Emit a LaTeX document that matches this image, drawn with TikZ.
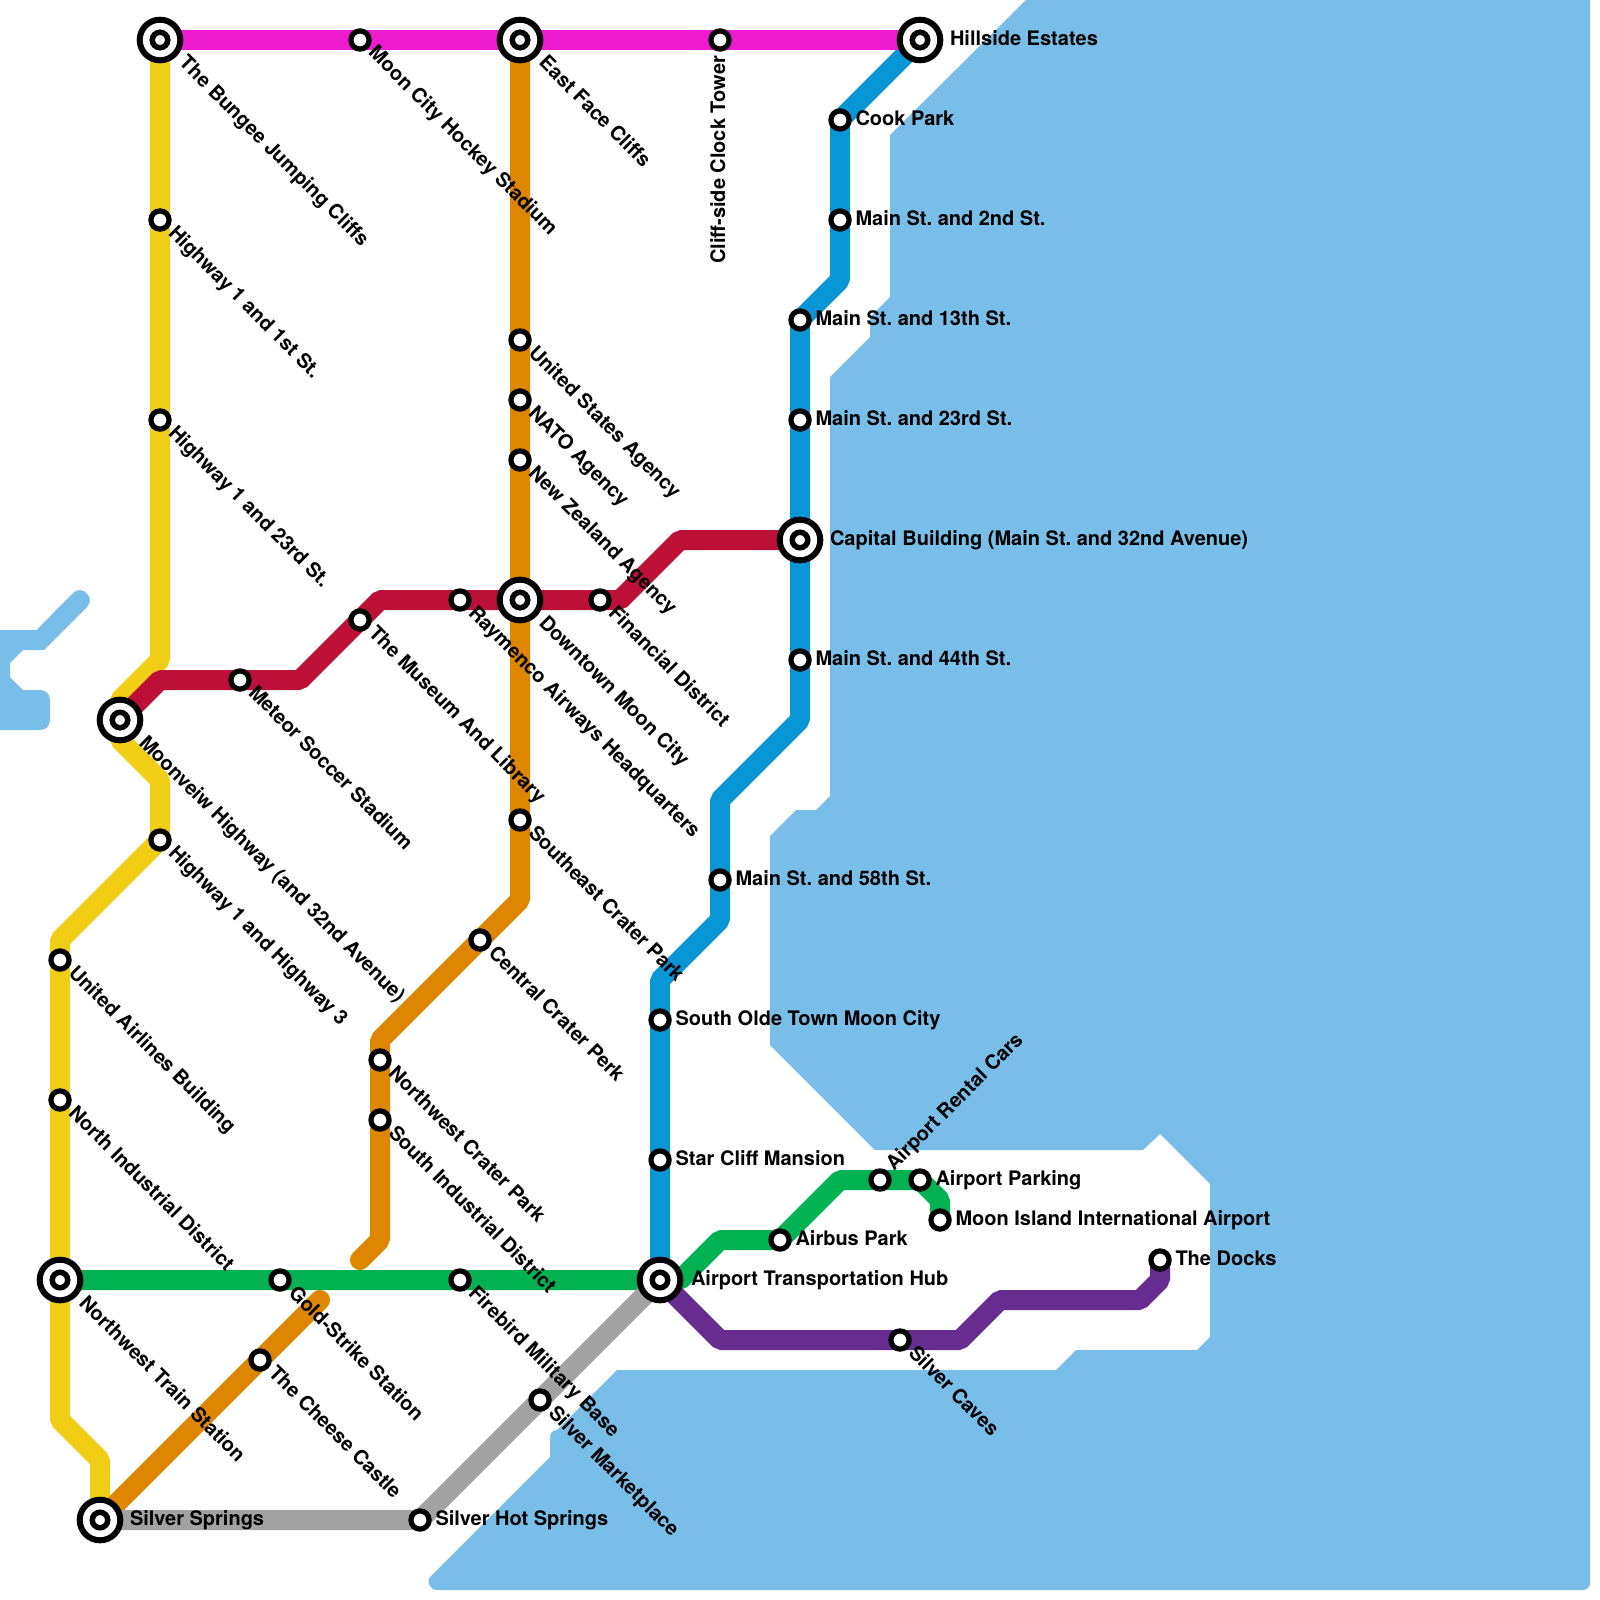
\documentclass[tikz,border=0pt]{standalone}
\usepackage{fontspec}
\setmainfont{TeX Gyre Heros}
\usetikzlibrary{calc,backgrounds}
\definecolor{water}{HTML}{79BDE9}
\definecolor{lyellow}{HTML}{F0CE15}
\definecolor{lblue}{HTML}{0896D7}
\definecolor{lmag}{HTML}{ED1AD0}
\definecolor{lred}{HTML}{BD1038}
\definecolor{lorange}{HTML}{DF8600}
\definecolor{lgreen}{HTML}{00B251}
\definecolor{lpurple}{HTML}{662C90}
\definecolor{lgray}{HTML}{A2A2A2}
\tikzset{
  stn/.style={circle,draw=black,fill=white,line width=5.2pt,minimum size=18.2pt,inner sep=0pt,outer sep=0pt},
  hubo/.style={circle,draw=black,fill=white,line width=6pt,minimum size=40.6pt,inner sep=0pt,outer sep=0pt},
  hubi/.style={circle,draw=black,fill=white,line width=5.5pt,minimum size=15.5pt,inner sep=0pt,outer sep=0pt},
  lab/.style={inner sep=0pt,outer sep=0pt,font=\fontsize{20}{22}\selectfont\bfseries\frenchspacing,text=black},
  metro/.style={line width=20pt,line join=bevel,line cap=round},
}
% name x y text
\newcommand{\rE}[4]{\node[stn] (#1) at (#2,#3) {}; \node[lab,anchor=base west] (#1L) at ($(#1.center)+(15.5,5)$) {#4};}
\newcommand{\rS}[4]{\node[stn] (#1) at (#2,#3) {}; \node[lab,anchor=base west,rotate=-45] (#1L) at ($(#1.center)+(7.5,14)$) {#4};}
\newcommand{\hub}[3]{\node[hubo] (#1) at (#2,#3) {}; \node[hubi] (#1i) at (#2,#3) {};}
\newcommand{\hE}[4]{\hub{#1}{#2}{#3}\node[lab,anchor=base west] (#1L) at ($(#1.center)+(30,5)$) {#4};}
\newcommand{\hS}[4]{\hub{#1}{#2}{#3}\node[lab,anchor=base west,rotate=-45] (#1L) at ($(#1.center)+(18,24)$) {#4};}
\begin{document}
\begin{tikzpicture}[x=1pt,y=-1pt]
\useasboundingbox (0,0) rectangle (1600,1600);
% stations and labels
\hS{bungee}{160}{40}{The Bungee Jumping Cliffs}
\rS{hockey}{360}{40}{Moon City Hockey Stadium}
\hS{eastface}{520}{40}{East Face Cliffs}
\node[stn] (clock) at (720,40) {};
\node[lab,anchor=base east,rotate=90] (clockL) at ($(clock.center)+(5,16)$) {Cliff-side Clock Tower};
\hub{hillside}{920}{40}
\node[lab,anchor=base west] (hillsideL) at ($(hillside.center)+(30,6)$) {Hillside Estates};
\rE{cook}{840}{120}{Cook Park}
\rE{m2}{840}{220}{Main St. and 2nd St.}
\rE{m13}{800}{320}{Main St. and 13th St.}
\rE{m23}{800}{420}{Main St. and 23rd St.}
\hE{capital}{800}{540}{Capital Building (Main St. and 32nd Avenue)}
\rE{m44}{800}{660}{Main St. and 44th St.}
\rE{m58}{720}{880}{Main St. and 58th St.}
\rE{olde}{660}{1020}{South Olde Town Moon City}
\rE{star}{660}{1160}{Star Cliff Mansion}
\hub{hubair}{660}{1280}
\node[lab,anchor=base west] (hubairL) at ($(hubair.center)+(31,5)$) {Airport Transportation Hub};
\rS{h1}{160}{220}{Highway 1 and 1st St.}
\rS{h23}{160}{420}{Highway 1 and 23rd St.}
\hS{moonv}{120}{720}{Moonveiw Highway (and 32nd Avenue)}
\rS{h3}{160}{840}{Highway 1 and Highway 3}
\rS{united}{60}{960}{United Airlines Building}
\rS{north}{60}{1100}{North Industrial District}
\hS{nwtrain}{60}{1280}{Northwest Train Station}
\hE{springs}{100}{1520}{Silver Springs}
\rS{meteor}{240}{680}{Meteor Soccer Stadium}
\rS{museum}{360}{620}{The Museum And Library}
\rS{raymenco}{460}{600}{Raymenco Airways Headquarters}
\hS{downtown}{520}{600}{Downtown Moon City}
\rS{financial}{600}{600}{Financial District}
\rS{usa}{520}{340}{United States Agency}
\rS{nato}{520}{400}{NATO Agency}
\rS{nz}{520}{460}{New Zealand Agency}
\rS{secrater}{520}{820}{Southeast Crater Park}
\rS{ccrater}{480}{940}{Central Crater Perk}
\rS{nwcrater}{380}{1060}{Northwest Crater Park}
\rS{south}{380}{1120}{South Industrial District}
\rS{cheese}{260}{1360}{The Cheese Castle}
\rS{gold}{280}{1280}{Gold-Strike Station}
\rS{firebird}{460}{1280}{Firebird Military Base}
\rE{airbus}{780}{1240}{Airbus Park}
\node[stn] (rental) at (880,1180) {};
\node[lab,anchor=base west,rotate=45] (rentalL) at ($(rental.center)+(14,-8.5)$) {Airport Rental Cars};
\rE{parking}{920}{1180}{Airport Parking}
\rE{island}{940}{1220}{Moon Island International Airport}
\rS{caves}{900}{1340}{Silver Caves}
\rE{docks}{1160}{1260}{The Docks}
\rS{market}{540}{1400}{Silver Marketplace}
\rE{hot}{420}{1520}{Silver Hot Springs}
% bends
\foreach \n/\x/\y in {
 bb1/840/280, bb2/800/720, bb3/720/800, bb4/720/920, bb5/660/980,
 yb1/160/660, yb2/120/700, yb3/120/740, yb4/160/780, yb5/60/940, yb6/60/1420, yb7/100/1460,
 rb1/160/680, rb2/300/680, rb3/380/600, rb4/620/600, rb5/680/540,
 ob1/520/900, ob2/380/1040, ob3/380/1240, ob4/360/1260, ob5/320/1300,
 gb1/680/1280, gb2/720/1240, gb3/840/1180, gb4/920/1180, gb5/940/1200,
 pb1/720/1340, pb2/960/1340, pb3/1000/1300, pb4/1140/1300, pb5/1160/1280}
 {\coordinate (\n) at (\x,\y);}
\begin{scope}[on background layer]
% water
\fill[water] (1026,0) -- (890,135) -- (890,297) -- (870,317) -- (870,337) -- (830,377) -- (830,796)
  -- (816,810) -- (796,810) -- (770,836) -- (770,1045) -- (875,1150) -- (1143,1150) -- (1160,1134)
  -- (1210,1184) -- (1210,1337) -- (1197,1350) -- (1076,1350) -- (1056,1370) -- (617,1370) -- (557,1430)
  .. controls (553,1430) and (550,1433) .. (550,1437) -- (550,1457) -- (430,1577)
  .. controls (426,1581) and (430,1590) .. (437,1590) -- (1583,1590)
  .. controls (1587,1590) and (1590,1587) .. (1590,1583) -- (1590,0) -- cycle;
\fill[water] (0,630) -- (36.5,630) -- (73,593) .. controls (82,584) and (96,598) .. (87,607)
  -- (44,650) -- (23,650) -- (10,663) -- (10,677) -- (23,690) -- (40,690)
  .. controls (46,690) and (50,694) .. (50,700) -- (50,720) .. controls (50,726) and (46,730) .. (40,730) -- (0,730) -- cycle;
% lines
\draw[metro,lyellow] (bungee.center) -- (h1.center) -- (h23.center) -- (yb1) -- (yb2) -- (moonv.center) -- (yb3) -- (yb4) -- (h3.center) -- (yb5) -- (united.center) -- (north.center) -- (nwtrain.center) -- (yb6) -- (yb7) -- (springs.center);
\draw[metro,lblue] (hillside.center) -- (cook.center) -- (m2.center) -- (bb1) -- (m13.center) -- (m23.center) -- (capital.center) -- (m44.center) -- (bb2) -- (bb3) -- (m58.center) -- (bb4) -- (bb5) -- (olde.center) -- (star.center) -- (hubair.center);
\draw[metro,lmag] (bungee.center) -- (hockey.center) -- (eastface.center) -- (clock.center) -- (hillside.center);
\draw[metro,lorange] (eastface.center) -- (usa.center) -- (nato.center) -- (nz.center) -- (downtown.center) -- (secrater.center) -- (ob1) -- (ccrater.center) -- (ob2) -- (nwcrater.center) -- (south.center) -- (ob3) -- (ob4);
\draw[metro,lorange] (ob5) -- (cheese.center) -- (springs.center);
\draw[metro,lred] (moonv.center) -- (rb1) -- (meteor.center) -- (rb2) -- (museum.center) -- (rb3) -- (raymenco.center) -- (downtown.center) -- (financial.center) -- (rb4) -- (rb5) -- (capital.center);
\draw[metro,lgreen] (nwtrain.center) -- (gold.center) -- (firebird.center) -- (hubair.center) -- (gb1) -- (gb2) -- (airbus.center) -- (gb3) -- (rental.center) -- (parking.center) -- (gb4) -- (gb5) -- (island.center);
\draw[metro,lpurple] (hubair.center) -- (pb1) -- (caves.center) -- (pb2) -- (pb3) -- (pb4) -- (pb5) -- (docks.center);
\draw[metro,lgray] (springs.center) -- (hot.center) -- (market.center) -- (hubair.center);
\end{scope}
\end{tikzpicture}
\end{document}
